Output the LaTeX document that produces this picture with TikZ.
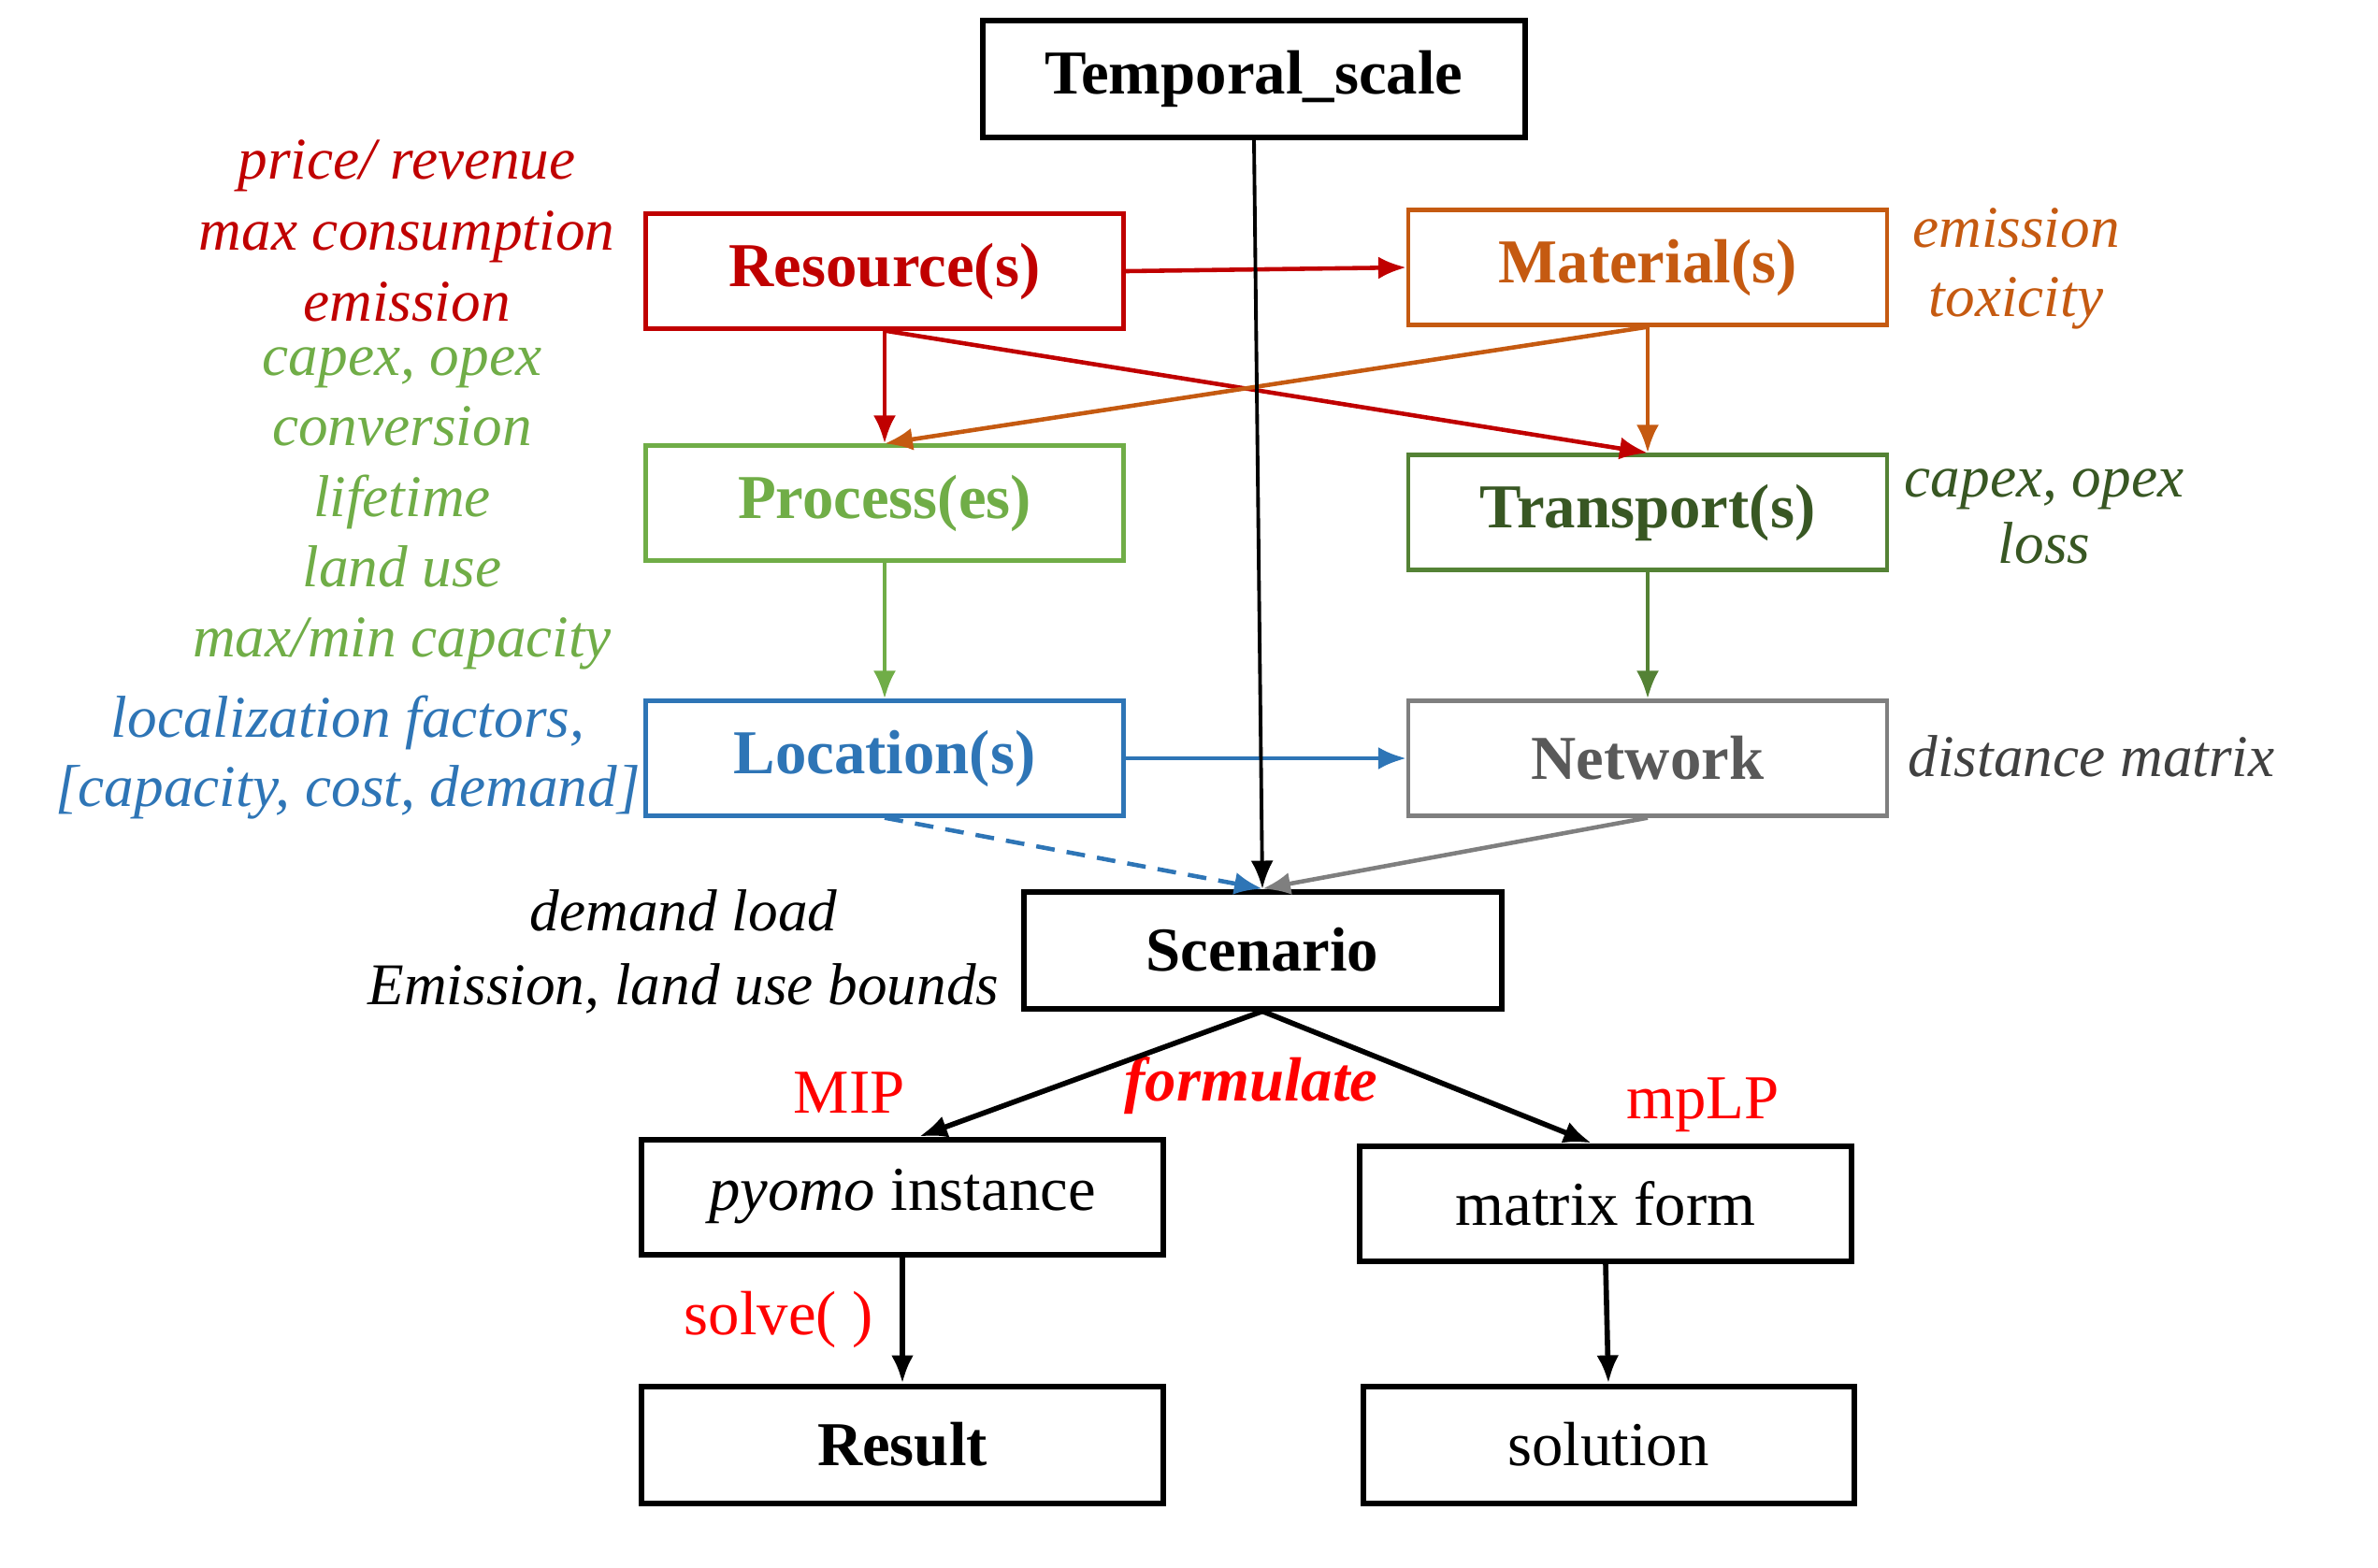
\documentclass[tikz,border=0pt]{standalone}
\usepackage{fontspec}
\setmainfont{Liberation Serif}
\usetikzlibrary{arrows.meta}

\definecolor{rescol}{HTML}{C00000}
\definecolor{matcol}{HTML}{C55A11}
\definecolor{proccol}{HTML}{70AD47}
\definecolor{transcol}{HTML}{548235}
\definecolor{transtxt}{HTML}{385723}
\definecolor{loccol}{HTML}{2E75B6}
\definecolor{netcol}{HTML}{7F7F7F}
\definecolor{nettxt}{HTML}{595959}
\definecolor{solvecol}{HTML}{FF0000}

\begin{document}
\begin{tikzpicture}[
        % every node/.style={draw},
        block/.style={draw, rectangle, minimum width=5.11cm, minimum height=1.23cm, inner sep=0pt, line width=1.2pt, font=\fontsize{19}{22}\selectfont\bfseries},
        blackblock/.style={block, line width=1.7pt},
        plainblock/.style={blackblock, font=\fontsize{19}{22}\selectfont},
        attr/.style={align=center, inner sep=0pt, font=\fontsize{18}{21.6}\selectfont\itshape},
        step label/.style={inner sep=0pt, text=solvecol, font=\fontsize{19}{22}\selectfont},
        flow/.style={-{Latex[length=3mm, width=2.4mm]}, line width=1.3pt},
        % thick,
    ]
    \useasboundingbox (0,0) rectangle (25.43,-16.76);

    % input blocks
    \node [blackblock, minimum width=5.80cm, minimum height=1.25cm] (temporal) at (13.41,-0.84) {Temporal\_scale};
    \node [block, draw=rescol, text=rescol] (resource) at (9.46,-2.90) {Resource(s)};
    \node [block, draw=matcol, text=matcol, minimum width=5.12cm] (material) at (17.62,-2.86) {Material(s)};
    \node [block, draw=proccol, text=proccol] (process) at (9.46,-5.38) {Process(es)};
    \node [block, draw=transcol, text=transtxt, minimum width=5.12cm] (transport) at (17.62,-5.48) {Transport(s)};
    \node [block, draw=loccol, text=loccol] (location) at (9.46,-8.11) {Location(s)};
    \node [block, draw=netcol, text=nettxt, minimum width=5.12cm] (network) at (17.62,-8.11) {Network};
    \node [blackblock, minimum height=1.25cm] (scenario) at (13.50,-10.16) {Scenario};

    % model blocks
    \node [plainblock, minimum width=5.58cm] (pyomo) at (9.65,-12.80) {\textit{pyomo} instance};
    \node [plainblock, minimum width=5.26cm] (matrix) at (17.17,-12.87) {matrix form};
    \node [blackblock, minimum width=5.58cm, minimum height=1.25cm] (result) at (9.65,-15.45) {Result};
    \node [plainblock, minimum width=5.25cm, minimum height=1.25cm] (solution) at (17.20,-15.45) {solution};

    % attributes
    \node [attr, text=rescol] (resattr) at (4.35,-2.47) {price/ revenue\\max consumption\\emission};
    \node [attr, text=proccol, font=\fontsize{18}{21.4}\selectfont\itshape] (procattr) at (4.30,-5.44) {capex, opex\\conversion\\lifetime\\land use\\max/min capacity};
    \node [attr, text=loccol, font=\fontsize{18}{21.3}\selectfont\itshape] (locattr) at (3.72,-8.10) {localization factors,\\{[}capacity, cost, demand{]}};
    \node [attr, text=matcol, font=\fontsize{18}{21}\selectfont\itshape] (matattr) at (21.56,-2.87) {emission\\toxicity};
    \node [attr, text=transtxt, font=\fontsize{18}{20.2}\selectfont\itshape] (transattr) at (21.86,-5.52) {capex, opex\\loss};
    \node [attr, text=black!75, anchor=west] (netattr) at (20.40,-8.09) {distance matrix};
    \node [attr, font=\fontsize{18}{22.5}\selectfont\itshape] (scenattr) at (7.31,-10.18) {demand load\\Emission, land use bounds};

    % step labels
    \node [step label] (mip) at (9.08,-11.69) {MIP};
    \node [step label, font=\fontsize{19}{22}\selectfont\bfseries\itshape] (formulate) at (13.38,-11.61) {formulate};
    \node [step label] (mplp) at (18.21,-11.82) {mpLP};
    \node [step label] (solve) at (8.33,-14.11) {solve( )};

    % connectors
    \draw [flow, rescol] (resource.east) -- (material.west);
    \draw [flow, rescol] (resource.south) -- (process.north);
    \draw [flow, rescol] (resource.south) -- (transport.north);
    \draw [flow, matcol] (material.south) -- (process.north);
    \draw [flow, matcol] (material.south) -- (transport.north);
    \draw [flow, proccol] (process.south) -- (location.north);
    \draw [flow, transcol] (transport.south) -- (network.north);
    \draw [flow, loccol] (location.east) -- (network.west);
    \draw [flow, loccol, dash pattern=on 2mm off 1.3mm] (location.south) -- (scenario.north);
    \draw [flow, netcol] (network.south) -- (scenario.north);
    \draw [flow, line width=1.1pt] (temporal.south) -- (scenario.north);
    \draw [flow, line width=1.6pt] (scenario.south) -- ([xshift=1.8mm]pyomo.north);
    \draw [flow, line width=1.6pt] (scenario.south) -- ([xshift=-1.5mm]matrix.north);
    \draw [flow, line width=1.6pt] (pyomo.south) -- (result.north);
    \draw [flow, line width=1.6pt] (matrix.south) -- (solution.north);
\end{tikzpicture}
\end{document}
